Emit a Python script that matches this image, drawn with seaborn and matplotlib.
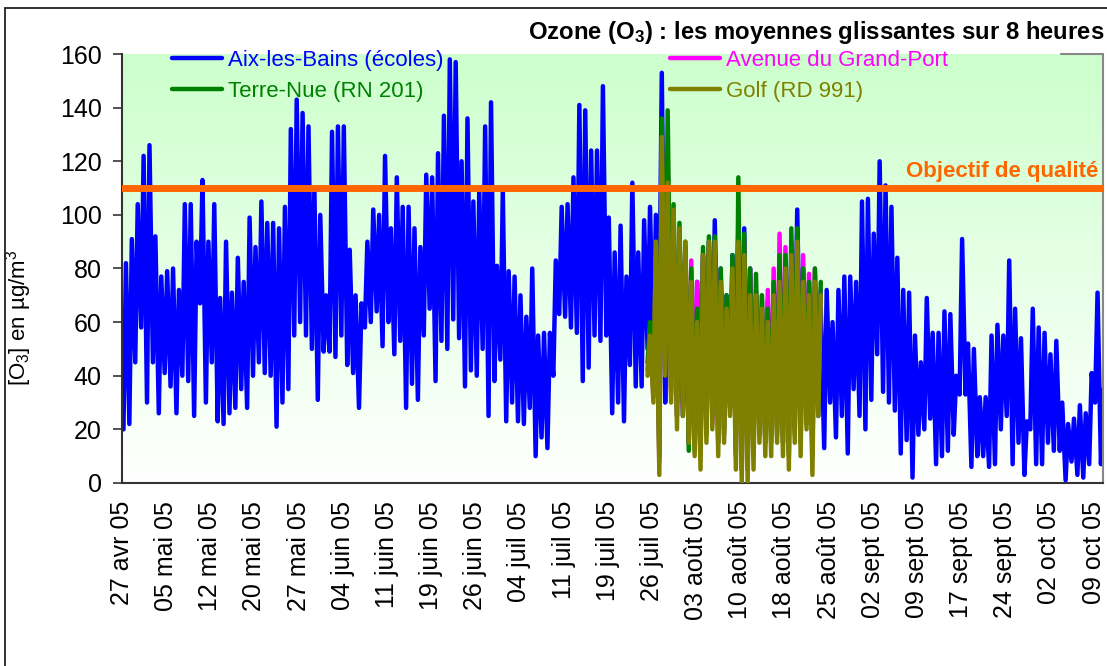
import numpy as np
import pandas as pd
import seaborn as sns
import matplotlib.pyplot as plt
from matplotlib.colors import LinearSegmentedColormap
from matplotlib.patches import Rectangle

# moyennes glissantes 8h : creux (matin) et pic (après-midi) de chaque jour, lus sur le graphe
# jour 0 = 27 avr 05
aix_hi = [82, 91, 104, 122, 126, 92, 77, 79, 80, 72,
          104, 104, 90, 113, 90, 104, 69, 90, 71, 84,
          75, 99, 88, 105, 97, 97, 95, 103, 132, 143,
          138, 133, 110, 100, 70, 131, 133, 133, 87, 70,
          67, 90, 102, 100, 122, 95, 114, 103, 103, 95,
          88, 115, 114, 123, 137, 158, 157, 120, 136, 105,
          109, 133, 142, 81, 109, 79, 77, 70, 62, 80,
          55, 56, 56, 83, 103, 104, 114, 141, 139, 124,
          124, 148, 99, 86, 96, 77, 112, 86, 98, 103,
          100, 153, 95, 90, 85, 80, 60, 75, 85, 90,
          98, 80, 70, 85, 97, 95, 80, 70, 65, 68,
          70, 75, 80, 85, 102, 80, 75, 70, 65, 72,
          60, 72, 77, 77, 75, 105, 106, 93, 120, 111,
          103, 84, 72, 71, 55, 45, 69, 56, 56, 64,
          63, 40, 91, 52, 50, 32, 32, 55, 59, 55,
          83, 65, 54, 23, 65, 58, 56, 48, 53, 30,
          22, 24, 29, 26, 41, 71, 35]
aix_lo = [20, 22, 45, 58, 30, 45, 26, 41, 36, 26,
          40, 38, 25, 67, 30, 45, 23, 22, 26, 28,
          35, 28, 40, 45, 41, 40, 21, 30, 35, 55,
          60, 55, 50, 31, 49, 49, 47, 55, 44, 41,
          28, 58, 60, 64, 51, 60, 48, 53, 28, 37,
          31, 55, 65, 38, 53, 50, 61, 54, 36, 42,
          40, 50, 25, 38, 46, 23, 30, 23, 22, 28,
          10, 17, 13, 40, 63, 62, 58, 56, 38, 43,
          55, 53, 55, 26, 30, 23, 44, 36, 36, 50,
          45, 60, 30, 40, 30, 25, 15, 20, 30, 35,
          40, 30, 25, 30, 35, 20, 15, 20, 25, 25,
          20, 30, 30, 35, 40, 30, 25, 20, 25, 13,
          30, 17, 25, 11, 35, 25, 20, 31, 48, 34,
          30, 27, 11, 16, 2, 18, 20, 24, 7, 10,
          12, 18, 33, 33, 6, 10, 10, 6, 7, 20,
          25, 7, 15, 3, 20, 7, 7, 15, 12, 12,
          1, 8, 3, 2, 7, 30, 7]

# stations de la campagne (jours 89 à 118)
campagne_debut = 89
port_hi = [58, 88, 125, 120, 100, 95, 88, 83, 75, 85, 88, 88, 78, 68, 82,
           95, 90, 80, 72, 70, 72, 80, 93, 88, 90, 92, 85, 78, 80, 72]
port_lo = [42, 32, 8, 42, 33, 25, 28, 15, 20, 12, 20, 22, 15, 20, 28,
           12, 5, 8, 15, 20, 15, 18, 20, 15, 12, 20, 18, 25, 12, 30]
terre_hi = [60, 90, 136, 139, 104, 97, 90, 80, 65, 88, 92, 92, 80, 70, 85,
            114, 93, 80, 78, 70, 65, 75, 85, 85, 95, 95, 80, 75, 80, 75]
terre_lo = [45, 35, 10, 45, 35, 25, 30, 12, 12, 10, 18, 25, 15, 18, 28,
            10, 5, 5, 10, 18, 15, 15, 18, 15, 10, 18, 15, 22, 10, 30]
golf_hi = [55, 90, 129, 112, 102, 95, 90, 75, 60, 85, 90, 90, 75, 65, 80,
           90, 85, 70, 70, 65, 60, 70, 75, 80, 85, 90, 75, 70, 75, 70]
golf_lo = [40, 30, 3, 40, 30, 20, 25, 15, 10, 5, 15, 20, 10, 15, 25,
           5, 0, 0, 5, 15, 10, 10, 15, 10, 5, 15, 10, 20, 3, 25]

objectif = 110
date_labels = ['27 avr 05', '05 mai 05', '12 mai 05', '20 mai 05', '27 mai 05',
               '04 juin 05', '11 juin 05', '19 juin 05', '26 juin 05', '04 juil 05',
               '11 juil 05', '19 juil 05', '26 juil 05', '03 août 05', '10 août 05',
               '18 août 05', '25 août 05', '02 sept 05', '09 sept 05', '17 sept 05',
               '24 sept 05', '02 oct 05', '09 oct 05']


def serie(hi, lo, debut=0):
    jours = np.arange(len(hi)) + debut
    x = np.column_stack([jours + 0.25, jours + 0.67]).ravel()
    y = np.column_stack([lo, hi]).ravel()
    return pd.DataFrame({'jour': x, 'o3': y})


sns.set_style("white")
plt.rcParams['font.family'] = ['Liberation Sans', 'DejaVu Sans']
plt.rcParams['mathtext.fontset'] = 'custom'
plt.rcParams['mathtext.rm'] = 'Liberation Sans'
plt.rcParams['mathtext.bf'] = 'Liberation Sans:bold'
plt.rcParams['mathtext.default'] = 'regular'
for k in ['text.color', 'axes.labelcolor', 'xtick.color', 'ytick.color']:
    plt.rcParams[k] = 'black'

fig = plt.figure(figsize=(11.07, 6.66), dpi=100)
ax = fig.add_axes([0.1102, 0.2748, 0.8862, 0.6441])

# fond dégradé vert -> blanc
cmap = LinearSegmentedColormap.from_list('fond', ['#FFFFFF', '#CCFFCC'])
ax.imshow(np.linspace(0, 1, 256).reshape(-1, 1), cmap=cmap, origin='lower',
          extent=(0, 1, 0, 1), transform=ax.transAxes, aspect='auto', zorder=0)

lw = 3.2
sns.lineplot(data=serie(aix_hi, aix_lo), x='jour', y='o3', color='#0000FF',
             lw=lw, estimator=None, sort=False, ax=ax, zorder=2)
h_aix = ax.lines[-1]
sns.lineplot(data=serie(port_hi, port_lo, campagne_debut), x='jour', y='o3',
             color='#FF00FF', lw=lw, estimator=None, sort=False, ax=ax, zorder=3)
h_port = ax.lines[-1]
sns.lineplot(data=serie(terre_hi, terre_lo, campagne_debut), x='jour', y='o3',
             color='#008000', lw=lw, estimator=None, sort=False, ax=ax, zorder=4)
h_terre = ax.lines[-1]
sns.lineplot(data=serie(golf_hi, golf_lo, campagne_debut), x='jour', y='o3',
             color='#808000', lw=lw, estimator=None, sort=False, ax=ax, zorder=5)
h_golf = ax.lines[-1]
h_aix.set_label('Aix-les-Bains (écoles)')
h_port.set_label('Avenue du Grand-Port')
h_terre.set_label('Terre-Nue (RN 201)')
h_golf.set_label('Golf (RD 991)')

ax.axhline(objectif, color='#FF6600', lw=5, zorder=6)
ax.text(0.995, 116, 'Objectif de qualité', transform=ax.get_yaxis_transform(),
        ha='right', va='center', color='#FF6600', fontsize=16, fontweight='bold')

ax.set_xlim(0, 166.6)
ax.set_ylim(0, 160)
ax.set_yticks(range(0, 161, 20))
ax.set_xticks(np.arange(len(date_labels)) * 7.5)
ax.set_xticklabels(date_labels, rotation=90)
ax.tick_params(axis='y', left=True, direction='out', length=6.5, width=1.2,
               color='#333333', pad=8, labelsize=18)
ax.tick_params(axis='x', bottom=False, length=0, pad=13, labelsize=18)
ax.set_xlabel('')
ax.set_ylabel('[O$_3$] en µg/m$^3$', fontsize=16)
ax.yaxis.set_label_coords(-0.09, 0.385)

for s in ['left', 'bottom']:
    ax.spines[s].set_color('#333333')
    ax.spines[s].set_linewidth(1.5)
ax.spines['right'].set_color('#888888')
ax.spines['right'].set_linewidth(1.5)
ax.spines['top'].set_visible(False)
ax.plot([0.957, 1], [1, 1], transform=ax.transAxes, color='#888888', lw=1.5,
        clip_on=False, zorder=7)

ax.legend(handles=[h_aix, h_terre, h_port, h_golf], ncol=2, loc='upper left',
          bbox_to_anchor=(0.051, 1.009), frameon=False, fontsize=16,
          handlelength=2.25, handletextpad=0.27, columnspacing=10.2,
          labelspacing=0.45, borderpad=0, borderaxespad=0, labelcolor='linecolor')

fig.text(1104 / 1107, 1 - 32 / 666,
         r'Ozone (O$_\mathbf{3}$) : les moyennes glissantes sur 8 heures',
         ha='right', va='center', fontsize=17.2, fontweight='bold')

# cadre du graphique
fig.add_artist(Rectangle((5 / 1107, -0.1), 1.2, 1.1 - 8 / 666, transform=fig.transFigure,
                         fill=False, ec='#222222', lw=1.3))

plt.savefig('out.png', dpi=100)
